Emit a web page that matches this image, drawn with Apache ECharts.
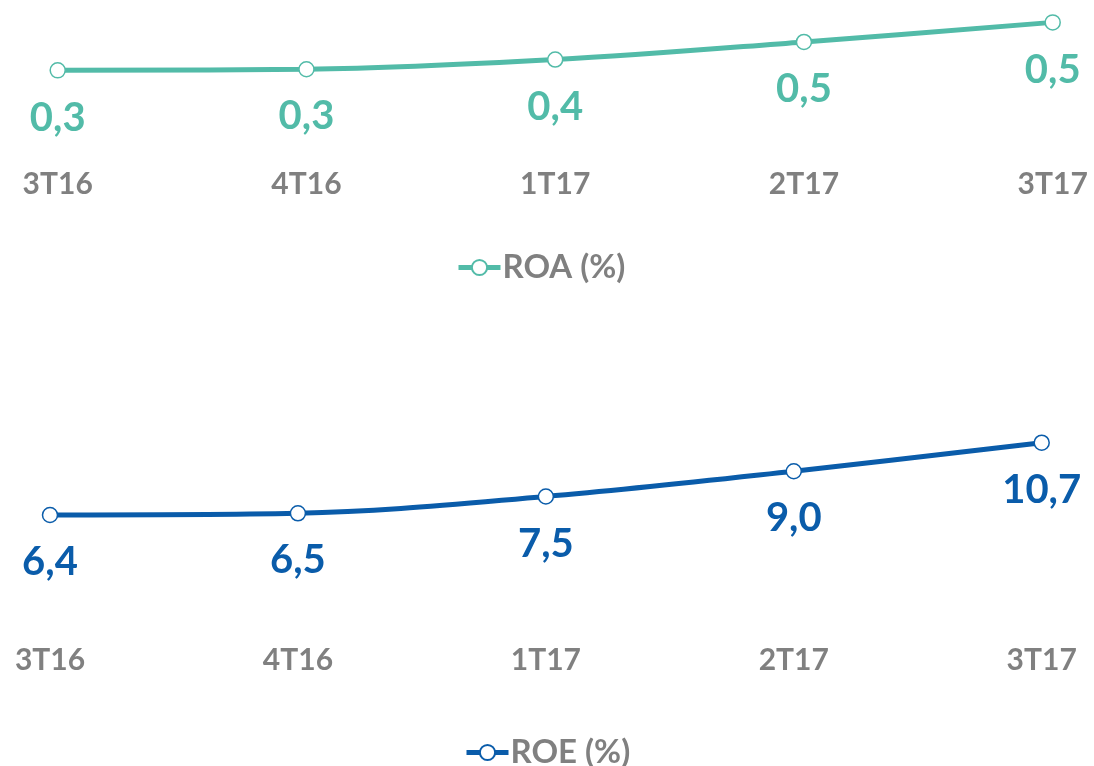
<!DOCTYPE html>
<html>
<head>
<meta charset="utf-8">
<script src="https://cdn.jsdelivr.net/npm/echarts@6/dist/echarts.min.js"></script>
<style>
    html, body { margin: 0; padding: 0; background: #fff; }
    #chart { width: 1094px; height: 766px; }
</style>
</head>
<body>
<div id="chart"></div>
<script>
    // 数据
    const quarters = ['3T16', '4T16', '1T17', '2T17', '3T17'];
    const roaValues = [0.32, 0.325, 0.37, 0.452, 0.543];
    const roeValues = [6.4, 6.5, 7.5, 9.0, 10.7];
    const roaName = 'ROA (%)';
    const roeName = 'ROE (%)';

    const teal = '#52bba8';
    const blue = '#0a5caa';
    const grey = '#808080';
    const font = 'Lato';

    const fmt = p => p.value.toFixed(1).replace('.', ',');

    function xAxisOf(idx, margin) {
        return {
            type: 'category',
            gridIndex: idx,
            data: quarters,
            boundaryGap: false,
            axisLine: { show: false },
            axisTick: { show: false },
            splitLine: { show: false },
            axisLabel: {
                margin: margin,
                color: grey,
                fontFamily: font,
                fontWeight: 'bold',
                fontSize: 30
            }
        };
    }

    function yAxisOf(idx, max) {
        return {
            type: 'value',
            gridIndex: idx,
            min: 0,
            max: max,
            show: false,
            splitLine: { show: false }
        };
    }

    function seriesOf(name, idx, data, color) {
        return {
            name: name,
            type: 'line',
            xAxisIndex: idx,
            yAxisIndex: idx,
            data: data,
            smooth: 0.35,
            symbol: 'circle',
            symbolSize: 15,
            lineStyle: { color: color, width: 5 },
            itemStyle: { color: '#fff', borderColor: color, borderWidth: 1.5 },
            label: {
                show: true,
                position: 'bottom',
                distance: 19,
                formatter: fmt,
                color: color,
                fontFamily: font,
                fontWeight: 'bold',
                fontSize: 40
            }
        };
    }

    function legendOf(name, left, top) {
        return {
            data: [name],
            left: left,
            top: top,
            itemWidth: 42,
            itemHeight: 19,
            itemGap: 6,
            lineStyle: { width: 5 },
            textStyle: {
                color: grey,
                fontFamily: font,
                fontWeight: 'bold',
                fontSize: 33,
                padding: [0, 0, 0, -3]
            }
        };
    }

    const myChart = echarts.init(document.getElementById('chart'));
    const option = {
        animation: false,
        grid: [
            { left: 57.7, right: 41.3, top: 0, height: 139.2 },
            { left: 50, right: 52.3, top: 400, height: 222.6 }
        ],
        xAxis: [xAxisOf(0, 30), xAxisOf(1, 23)],
        yAxis: [yAxisOf(0, 0.647), yAxisOf(1, 13.24)],
        legend: [legendOf(roaName, 451, 246), legendOf(roeName, 459, 731)],
        series: [
            seriesOf(roaName, 0, roaValues, teal),
            seriesOf(roeName, 1, roeValues, blue)
        ]
    };
    myChart.setOption(option);
</script>
</body>
</html>
